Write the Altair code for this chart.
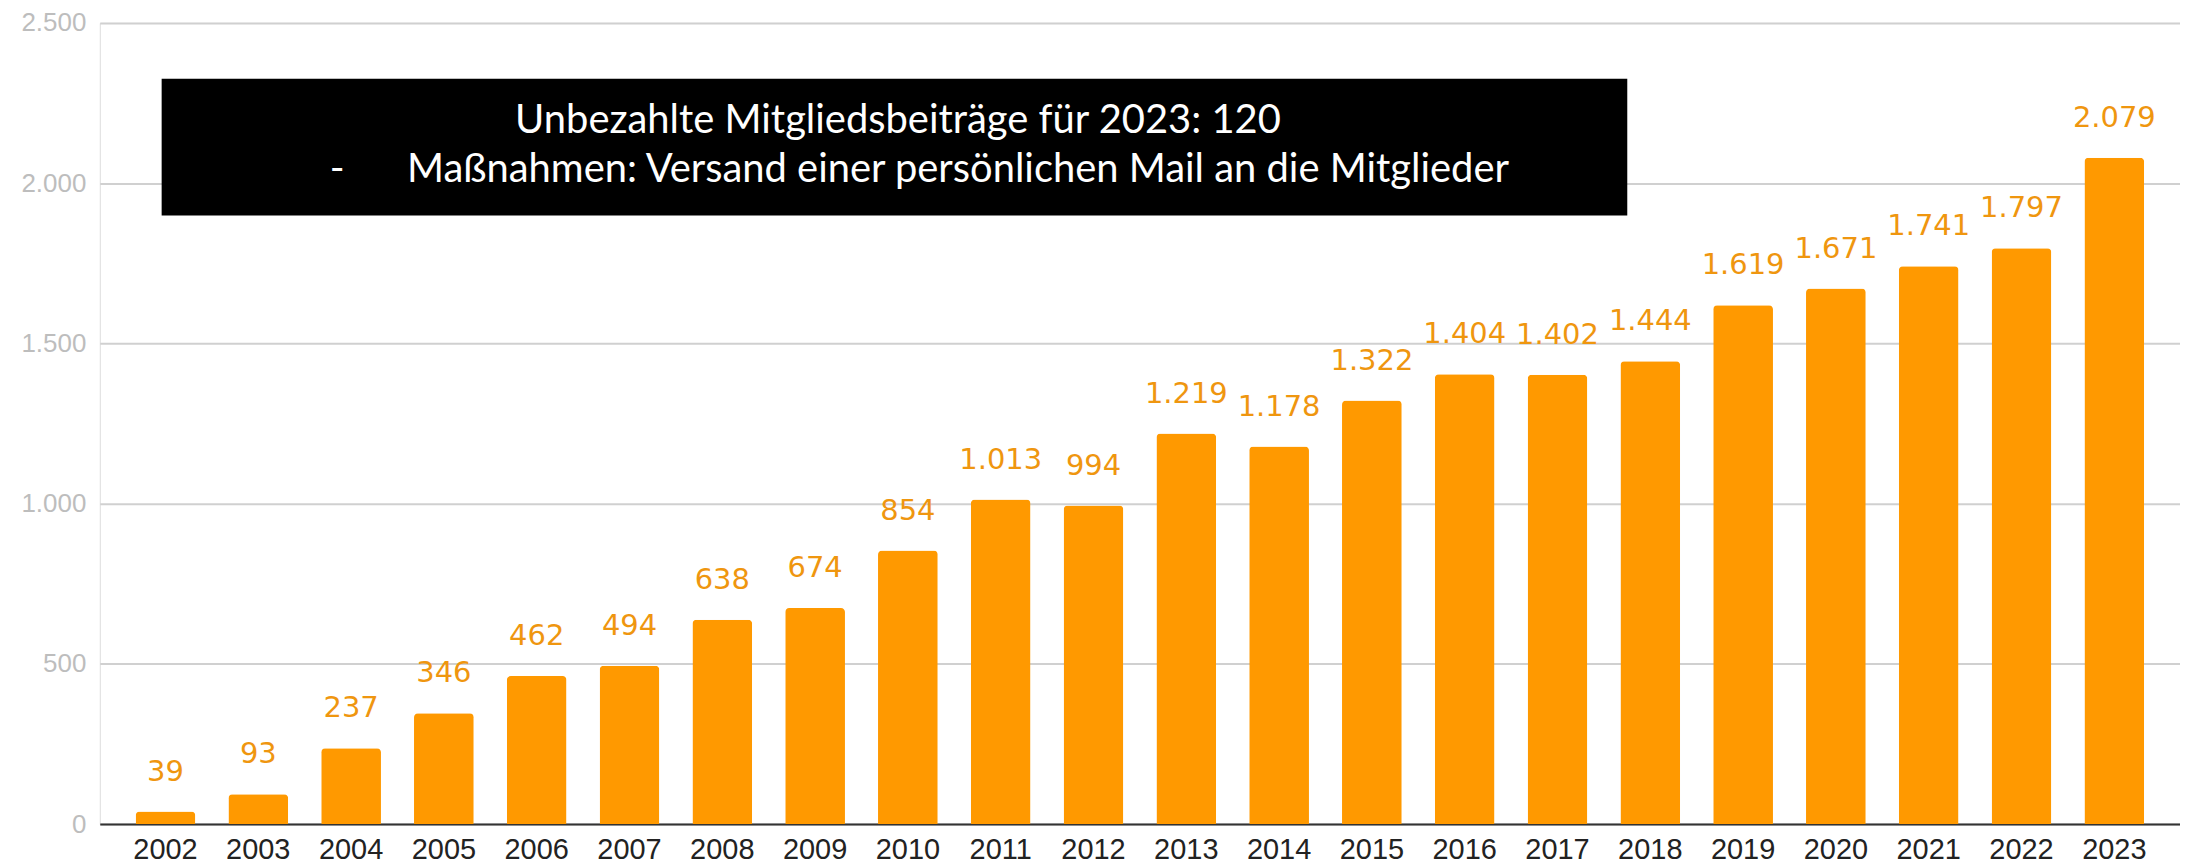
import altair as alt
import pandas as pd

years = ["2002", "2003", "2004", "2005", "2006", "2007", "2008", "2009", "2010", "2011", "2012",
         "2013", "2014", "2015", "2016", "2017", "2018", "2019", "2020", "2021", "2022", "2023"]
members = [39, 93, 237, 346, 462, 494, 638, 674, 854, 1013, 994,
           1219, 1178, 1322, 1404, 1402, 1444, 1619, 1671, 1741, 1797, 2079]
y_ticks = [0, 500, 1000, 1500, 2000, 2500]

note_line1 = "Unbezahlte Mitgliedsbeiträge für 2023: 120"
note_bullet = "-"
note_line2 = "Maßnahmen: Versand einer persönlichen Mail an die Mitglieder"

df = pd.DataFrame({"Jahr": years, "Mitglieder": members})

TOP = 14
W, H = 2085, 803
BAR = "#FF9900"
LABEL = "#EF960F"

x_enc = alt.X("Jahr:N", sort=years, title=None,
              scale=alt.Scale(paddingInner=0.356, paddingOuter=0.386),
              axis=alt.Axis(labelAngle=0, ticks=False, labelFont="Liberation Sans",
                            labelFontSize=29, labelColor="#222222", labelPadding=11,
                            domainColor="#333333", domainWidth=2, grid=False))
y_enc = alt.Y("Mitglieder:Q", title=None,
              scale=alt.Scale(domain=[0, 2500], nice=False),
              axis=alt.Axis(values=y_ticks, format=",d", ticks=False, domain=False,
                            labelFont="Liberation Sans", labelFontSize=26,
                            labelColor="#BDBDBD", labelPadding=14,
                            gridColor="#D0D0D0", gridWidth=2))

base = alt.Chart(df)

bars = base.mark_bar(color=BAR, cornerRadiusTopLeft=4, cornerRadiusTopRight=4).encode(
    x=x_enc, y=y_enc)

labels = base.mark_text(font="DejaVu Sans", fontSize=29, color=LABEL,
                        baseline="alphabetic", dy=-31).encode(
    x=alt.X("Jahr:N", sort=years),
    y="Mitglieder:Q",
    text=alt.Text("Mitglieder:Q", format=",d"))

one = alt.Chart(pd.DataFrame({"k": [0]}))
off = 16 - (8 + TOP)
box = one.mark_rect(color="#000000").encode(
    x=alt.value(62), x2=alt.value(1531), y=alt.value(62 + off), y2=alt.value(199 + off))
t1 = one.mark_text(font="Lato", fontSize=40, color="white", align="center",
                   baseline="alphabetic", text=note_line1).encode(
    x=alt.value(800), y=alt.value(116 + off))
t_dash = one.mark_text(font="Lato", fontSize=40, color="white", align="center",
                       baseline="alphabetic", text=note_bullet).encode(
    x=alt.value(238), y=alt.value(165 + off))
t2 = one.mark_text(font="Lato", fontSize=40, color="white", align="left",
                   baseline="alphabetic", text=note_line2).encode(
    x=alt.value(308), y=alt.value(165 + off))

chart = alt.layer(bars, labels, box, t1, t_dash, t2).properties(
    width=W, height=H,
    autosize=alt.AutoSizeParams(type="none"),
    padding={"left": 92, "top": TOP, "right": 0, "bottom": 40},
).configure_view(stroke=None).configure(
    locale={"number": {"decimal": ",", "thousands": ".", "grouping": [3],
                       "currency": ["", " €"]}}
)

chart.save("out.html", embed_options={"renderer": "svg", "actions": False})
